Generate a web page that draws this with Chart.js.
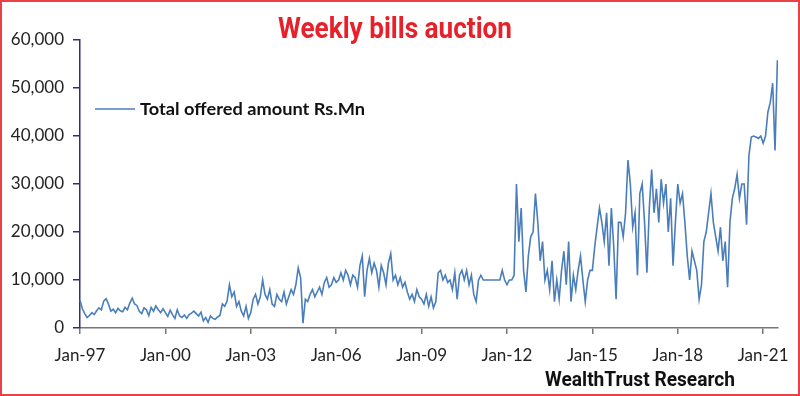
<!DOCTYPE html>
<html>
<head>
<meta charset="utf-8">
<script src="https://cdn.jsdelivr.net/npm/chart.js@4.4.1/dist/chart.umd.min.js"></script>
<style>
  html, body { margin: 0; padding: 0; background: #fff; }
  #wrap { width: 800px; height: 396px; position: relative; }
</style>
</head>
<body>
<div id="wrap"><canvas id="myChart" width="800" height="396"></canvas></div>
<script>
// monthly readings, Jan-97 .. Jul-21 (Rs.Mn)
var startYear = 1997;
var y1997 = [5800, 4000, 3000, 2200, 2600, 3200, 2800, 3600, 4200, 3800, 5600, 6100];
var y1998 = [5000, 3500, 3900, 3200, 4100, 3600, 3400, 4300, 3800, 5200, 6200, 5000];
var y1999 = [4700, 3500, 3000, 4200, 3800, 2600, 4300, 3500, 4600, 3800, 3200, 4000];
var y2000 = [3200, 2400, 3700, 2800, 2000, 3800, 2500, 2200, 2700, 2000, 2800, 3100];
var y2001 = [3500, 3000, 2500, 3300, 1500, 2200, 1200, 2500, 2000, 1800, 2300, 2600];
var y2002 = [5000, 4500, 5600, 9000, 6500, 7500, 4500, 5500, 3500, 2500, 4500, 2000];
var y2003 = [3200, 6000, 7000, 5000, 6500, 10000, 7000, 6000, 8000, 5000, 4500, 7000];
var y2004 = [6000, 5500, 7500, 5000, 6500, 8000, 7000, 9000, 12500, 10500, 1000, 6000];
var y2005 = [5500, 7000, 8000, 6500, 7500, 8500, 7000, 9500, 10500, 8500, 9000, 10500];
var y2006 = [9500, 10000, 11500, 10000, 12000, 11000, 9000, 11000, 10500, 8500, 13000, 15000];
var y2007 = [6500, 12000, 14500, 11500, 13500, 12000, 8500, 13000, 11500, 9000, 13500, 15500];
var y2008 = [10000, 11000, 9000, 10500, 8500, 9500, 7500, 6000, 7000, 5500, 8000, 6500];
var y2009 = [6000, 5000, 7000, 4500, 6500, 4200, 5500, 11500, 12000, 10000, 11000, 9500];
var y2010 = [10000, 8000, 11500, 6000, 11000, 12000, 10000, 12000, 9000, 11000, 7000, 5500];
var y2011 = [10000, 11000, 10000, 10000, 10000, 10000, 10000, 10000, 10000, 10000, 12000, 10000];
var y2012 = [9000, 10000, 10000, 11000, 30000, 18000, 25000, 12000, 7500, 15000, 19000, 20000];
var y2013 = [28000, 22000, 14000, 18000, 10000, 12000, 8000, 14000, 5500, 10000, 6000, 12000];
var y2014 = [16000, 9000, 18000, 5500, 11000, 8000, 12000, 15000, 10000, 5500, 10000, 12000];
var y2015 = [12000, 17000, 21000, 25000, 22000, 18000, 24000, 13000, 25000, 17000, 6000, 22000];
var y2016 = [22000, 19000, 24000, 35000, 30000, 21000, 24000, 11000, 28000, 30000, 22000, 11500];
var y2017 = [25000, 33000, 24000, 29000, 22000, 31000, 26000, 30000, 20000, 27000, 13000, 22000];
var y2018 = [30000, 26000, 28000, 22000, 15000, 10000, 16000, 14000, 12000, 6000, 9000, 18000];
var y2019 = [20000, 24000, 28000, 22000, 19000, 16000, 21000, 14000, 18000, 8500, 22000, 27000];
var y2020 = [29000, 32000, 27000, 30000, 30000, 21500, 36000, 39800, 40000, 39800, 39500, 40000];
var y2021 = [38500, 40000, 45000, 47000, 51000, 37000, 55800];

var offered = [].concat(y1997, y1998, y1999, y2000, y2001, y2002, y2003, y2004, y2005,
  y2006, y2007, y2008, y2009, y2010, y2011, y2012, y2013, y2014, y2015, y2016, y2017,
  y2018, y2019, y2020, y2021);

var monNames = ['Jan','Feb','Mar','Apr','May','Jun','Jul','Aug','Sep','Oct','Nov','Dec'];
var months = [];
for (var i = 0; i < offered.length; i++) {
  var yr = startYear + Math.floor(i / 12);
  months.push(monNames[i % 12] + '-' + String(yr).slice(2));
}

var lineColor = '#4a7ebb';
var tickFont = { family: 'Lato, "Open Sans", sans-serif', size: 17 };

// squeeze text horizontally so it fills a given width (condensed look)
function fitText(ctx, text, x, y, width) {
  var w = ctx.measureText(text).width;
  ctx.save();
  ctx.translate(x, y);
  ctx.scale(width / w, 1);
  ctx.textAlign = 'left';
  ctx.fillText(text, 0, 0);
  ctx.restore();
}

// title, legend, source note and frame
var decor = {
  id: 'decor',
  afterDraw: function(chart) {
    var ctx = chart.ctx;
    ctx.save();
    ctx.textBaseline = 'alphabetic';
    ctx.fillStyle = '#e8202a';
    ctx.font = 'bold 29px Roboto, sans-serif';
    fitText(ctx, 'Weekly bills auction', 278, 38, 234);

    ctx.strokeStyle = lineColor;
    ctx.lineWidth = 1.5;
    ctx.beginPath();
    ctx.moveTo(95, 109);
    ctx.lineTo(135, 109);
    ctx.stroke();
    ctx.fillStyle = '#111';
    ctx.font = 'bold 17px Lato, sans-serif';
    fitText(ctx, chart.data.datasets[0].label, 140, 115, 225);

    ctx.font = 'bold 21px Roboto, sans-serif';
    fitText(ctx, 'WealthTrust Research', 545, 386, 190);

    ctx.strokeStyle = '#ea4049';
    ctx.lineWidth = 2;
    ctx.strokeRect(1, 1, 798, 394);
    ctx.restore();
  }
};

var ctx = document.getElementById('myChart').getContext('2d');
var chart = new Chart(ctx, {
  type: 'line',
  data: {
    labels: months,
    datasets: [{
      label: 'Total offered amount Rs.Mn',
      data: offered,
      borderColor: lineColor,
      borderWidth: 1.6,
      pointRadius: 0,
      tension: 0,
      fill: false
    }]
  },
  options: {
    responsive: false,
    animation: false,
    layout: { padding: { top: 40, right: 21, left: 0, bottom: 0 } },
    plugins: { legend: { display: false }, title: { display: false }, tooltip: { enabled: false } },
    scales: {
      x: {
        offset: false,
        grid: { display: true, drawOnChartArea: false, drawTicks: true, tickLength: 6, color: '#777', lineWidth: 1.5 },
        border: { color: '#777', width: 1.5 },
        ticks: {
          autoSkip: false, maxRotation: 0, color: '#222', font: tickFont, padding: 11,
          callback: function(v, i) {
            var lab = months[i];
            return (i % 36 === 0) ? lab : null;
          }
        },
        afterFit: function(s) { s.height = 68; }
      },
      y: {
        min: 0, max: 60000,
        grid: { display: true, drawOnChartArea: false, tickLength: 7, color: '#2a2f80', lineWidth: 1.5 },
        border: { color: '#2a2f80', width: 1.5 },
        ticks: {
          stepSize: 10000, color: '#222', font: tickFont, padding: 9,
          callback: function(v) { return v.toLocaleString('en-US'); }
        },
        afterFit: function(s) { s.width = 80; }
      }
    }
  },
  plugins: [decor]
});
</script>
</body>
</html>
